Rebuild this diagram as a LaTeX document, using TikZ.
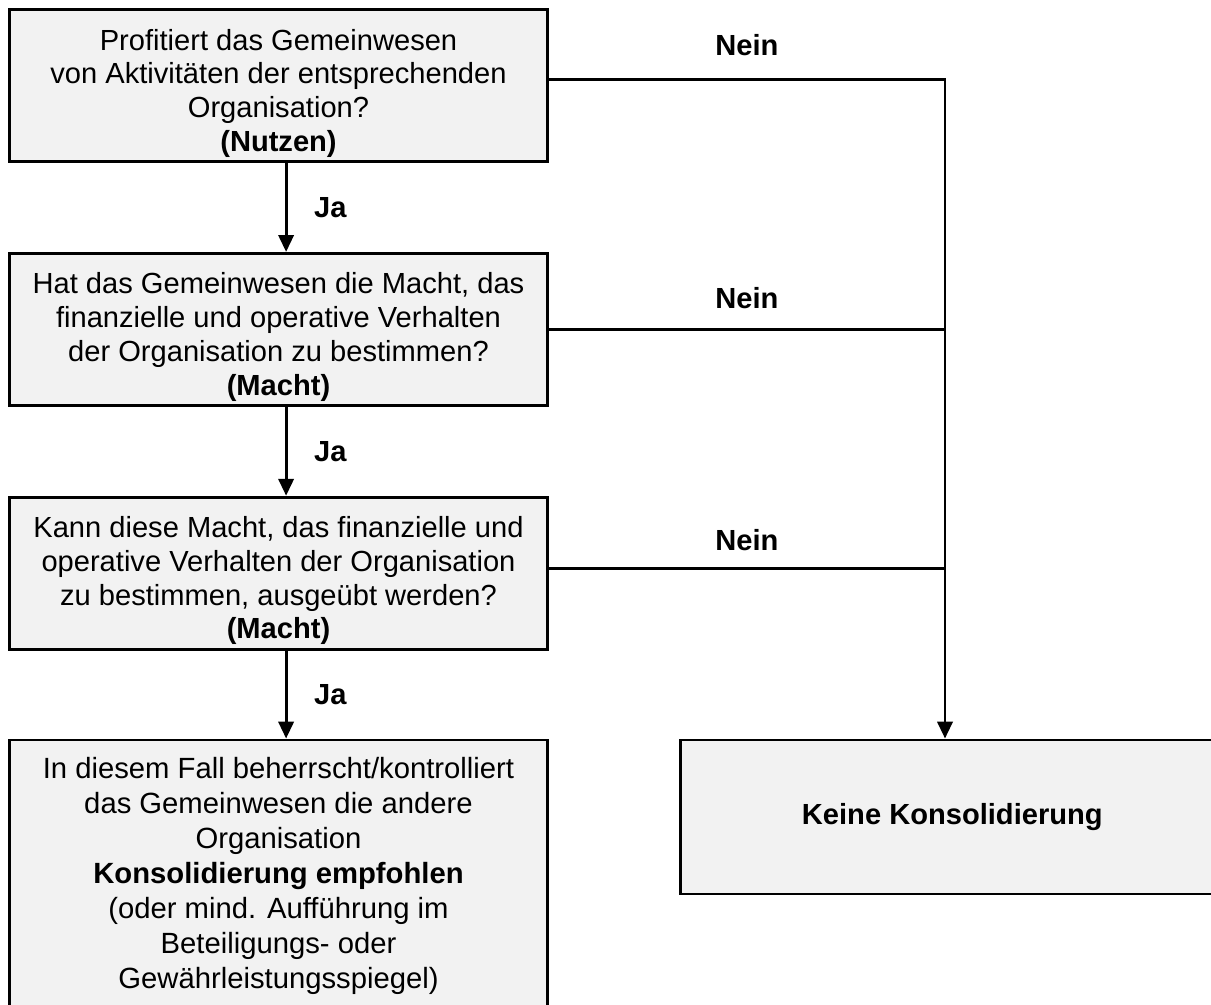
\documentclass[tikz,border=0pt]{standalone}
\usepackage{fontspec}
\setmainfont{Liberation Sans}
\usetikzlibrary{positioning,arrows.meta}
\definecolor{boxgray}{HTML}{F2F2F2}
\newcommand\kopf{\rule{0pt}{26pt}}

\tikzset{
  frage/.style={draw, line width=2pt, fill=boxgray, align=center,
    minimum width=13.45cm, minimum height=3.8cm, inner sep=0pt,
    font=\fontsize{20.7pt}{24pt}\selectfont},
  pfeil/.style={line width=2pt, -{Triangle[length=0.42cm,width=0.38cm]}},
  linie/.style={line width=2pt},
  marke/.style={font=\fontsize{20.7pt}{24pt}\selectfont\bfseries}
}

\begin{document}
\begin{tikzpicture}
				\useasboundingbox (0,0) rectangle (30.275,-25.125);
				\clip (0,0) rectangle (30.275,-25.125);

				\node[frage] (b1) at (6.9625,-2.1375)
					{\kopf Profitiert das Gemeinwesen\\von Aktivitäten der entsprechenden\\Organisation?\\\textbf{(Nutzen)}};
				\node[frage, below=2.225cm of b1] (b2)
					{\kopf Hat das Gemeinwesen die Macht, das\\finanzielle und operative Verhalten\\der Organisation zu bestimmen?\\\textbf{(Macht)}};
				\node[frage, below=2.225cm of b2] (b3)
					{\kopf Kann diese Macht, das finanzielle und\\operative Verhalten der Organisation\\zu bestimmen, ausgeübt werden?\\\textbf{(Macht)}};
				\node[frage, below=2.2cm of b3, minimum height=6.8cm,
					font=\fontsize{20.8pt}{24.8pt}\selectfont] (b4)
					{In diesem Fall beherrscht/kontrolliert\\das Gemeinwesen die andere\\Organisation\\\textbf{Konsolidierung empfohlen}\\(oder mind. Aufführung im\\Beteiligungs- oder\\Gewährleistungsspiegel)};
				\node[frage, right=3.25cm of b4.north east, anchor=north west,
					minimum width=13.6cm, minimum height=3.85cm] (k)
					{\textbf{Keine Konsolidierung}};

				\coordinate (rail) at (23.625,-2);

				% Ja
				\draw[pfeil] ([xshift=1.9mm]b1.south) -- node[marke, right=0.55cm] {Ja} ([xshift=1.9mm]b2.north);
				\draw[pfeil] ([xshift=1.9mm]b2.south) -- node[marke, right=0.55cm] {Ja} ([xshift=1.9mm]b3.north);
				\draw[pfeil] ([xshift=1.9mm]b3.south) -- node[marke, right=0.55cm] {Ja} ([xshift=1.9mm]b4.north);

				% Nein
				\draw[pfeil] ([yshift=1.4mm]b1.east) -- node[marke, above=0.45cm] {Nein} ([yshift=1.4mm]b1.east -| rail) -- (rail |- k.north);
				\draw[linie] (b2.east) -- node[marke, above=0.35cm] {Nein} (b2.east -| rail);
				\draw[linie] ([yshift=1.1mm]b3.east) -- node[marke, above=0.3cm] {Nein} ([yshift=1.1mm]b3.east -| rail);
			\end{tikzpicture}
\end{document}
